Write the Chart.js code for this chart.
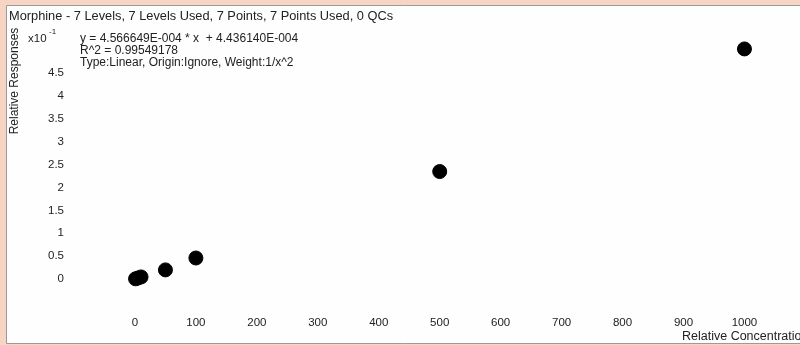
<!DOCTYPE html>
<html>
<head>
<meta charset="utf-8">
<script src="https://cdn.jsdelivr.net/npm/chart.js@4"></script>
<style>
  html, body { margin: 0; padding: 0; background: #f6d5c5; }
  #wrap { width: 800px; height: 345px; position: relative; }
</style>
</head>
<body>
<div id="wrap"><canvas id="chart" width="800" height="345"></canvas></div>
<script>
'use strict';

// calibration levels and measured responses (x10^-1)
let concentrations = [1, 5, 10, 50, 100, 500, 1000];
let responses = [0.005, 0.023, 0.046, 0.2, 0.46, 2.35, 5.03];
let xTicks = [0, 100, 200, 300, 400, 500, 600, 700, 800, 900, 1000];
let yTicks = [0, 0.5, 1, 1.5, 2, 2.5, 3, 3.5, 4, 4.5];

let titleText = 'Morphine - 7 Levels, 7 Levels Used, 7 Points, 7 Points Used, 0 QCs';
let infoLines = [
    'y = 4.566649E-004 * x  + 4.436140E-004',
    'R^2 = 0.99549178',
    'Type:Linear, Origin:Ignore, Weight:1/x^2'
];

let points = [];
concentrations.forEach((c, i) => {
    points.push({ x: c, y: responses[i] });
});

const FONT = '"Liberation Sans", Arial, Helvetica, sans-serif';
const INK = '#222';

// frame + free text drawn on the canvas
let framePlugin = {
    id: 'frame',
    beforeDraw(chart) {
        let ctx = chart.ctx;
        ctx.save();
        ctx.fillStyle = '#f6d5c5';
        ctx.fillRect(0, 0, 800, 345);
        ctx.fillStyle = '#fefefe';
        ctx.fillRect(6, 5, 794, 338);
        ctx.strokeStyle = '#9a9a9a';
        ctx.lineWidth = 1;
        ctx.beginPath();
        ctx.moveTo(800, 5.5);
        ctx.lineTo(6.5, 5.5);
        ctx.lineTo(6.5, 343.5);
        ctx.lineTo(800, 343.5);
        ctx.stroke();
        ctx.restore();
    },
    afterDraw(chart) {
        let ctx = chart.ctx;
        ctx.save();
        ctx.fillStyle = INK;
        ctx.textBaseline = 'middle';
        ctx.textAlign = 'left';
        ctx.font = '12.8px ' + FONT;
        ctx.fillText(titleText, 9, 16);
        ctx.font = '12px ' + FONT;
        infoLines.forEach((line, i) => {
            ctx.fillText(line, 80, 39 + i * 11.7);
        });
        ctx.font = '11.5px ' + FONT;
        ctx.fillText('x10', 28, 39);
        ctx.font = '8px ' + FONT;
        ctx.fillText('-1', 49, 32);
        ctx.font = '12.5px ' + FONT;
        ctx.fillText('Relative Concentration', 682, 337);
        ctx.translate(15, 81);
        ctx.rotate(-Math.PI / 2);
        ctx.textAlign = 'center';
        ctx.font = '12px ' + FONT;
        ctx.fillText('Relative Responses', 0, 0);
        ctx.restore();
    }
};

let chartObj = document.getElementById('chart').getContext('2d');

let chart = new Chart(chartObj, {
    type: 'scatter',
    data: {
        datasets: [{
            label: 'Morphine',
            data: points,
            backgroundColor: '#000',
            borderColor: '#000',
            pointRadius: 7,
            pointHoverRadius: 7,
            clip: false
        }]
    },
    options: {
        responsive: false,
        animation: false,
        layout: { padding: { top: 32, right: 5, bottom: 0, left: 0 } },
        plugins: {
            legend: { display: false },
            tooltip: { enabled: false }
        },
        scales: {
            x: {
                type: 'linear',
                min: -100,
                max: 1078,
                grid: { display: false, drawTicks: false },
                border: { display: false },
                afterBuildTicks: scale => {
                    scale.ticks = xTicks.map(v => ({ value: v }));
                },
                afterFit: scale => { scale.height = 38.5; },
                ticks: {
                    padding: 9,
                    maxRotation: 0,
                    color: INK,
                    font: { family: FONT, size: 11.5 },
                    callback: v => String(v)
                }
            },
            y: {
                type: 'linear',
                min: -0.6,
                max: 5.4,
                grid: { display: false, drawTicks: false },
                border: { display: false },
                afterBuildTicks: scale => {
                    scale.ticks = yTicks.map(v => ({ value: v }));
                },
                afterFit: scale => { scale.width = 74; },
                ticks: {
                    padding: 10,
                    color: INK,
                    font: { family: FONT, size: 11.5 },
                    callback: v => String(v)
                }
            }
        }
    },
    plugins: [framePlugin]
});
</script>
</body>
</html>
